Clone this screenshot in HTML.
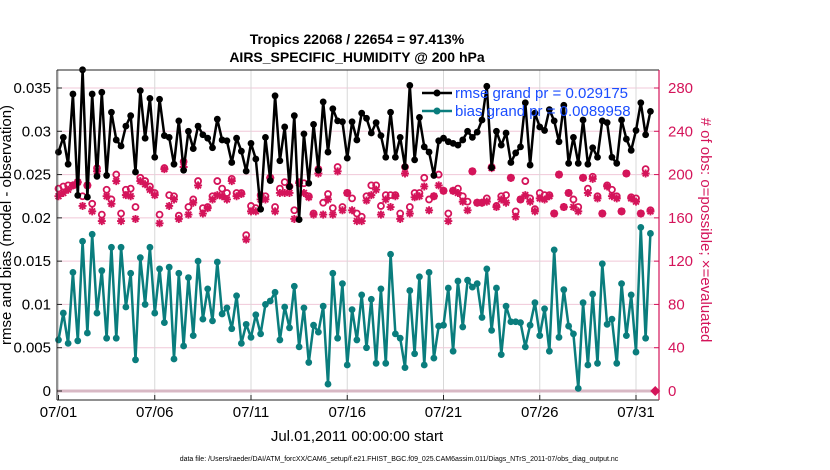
<!DOCTYPE html>
<html><head><meta charset="utf-8"><style>
body{margin:0;background:#fff;}
svg{display:block;font-family:"Liberation Sans",sans-serif;}
</style></head><body>
<svg id="chart" width="830" height="470" viewBox="0 0 830 470" xmlns="http://www.w3.org/2000/svg">
<text x="357" y="44" text-anchor="middle" font-size="14" font-weight="bold">Tropics 22068 / 22654 = 97.413%</text>
<text x="357" y="62" text-anchor="middle" font-size="14" font-weight="bold">AIRS_SPECIFIC_HUMIDITY @ 200 hPa</text>
<g id="grid"></g>
<g id="marks"></g>
<g id="axes"></g>
<text transform="translate(11,225) rotate(-90)" text-anchor="middle" font-size="15">rmse and bias (model - observation)</text>
<text transform="translate(701,230) rotate(90)" text-anchor="middle" font-size="15" fill="#d4145a">
# of obs: o=possible; ×=evaluated</text>
<text x="357" y="441" text-anchor="middle" font-size="15">Jul.01,2011 00:00:00 start</text>
<text x="399" y="461" text-anchor="middle" font-size="7">data file: /Users/raeder/DAI/ATM_forcXX/CAM6_setup/f.e21.FHIST_BGC.f09_025.CAM6assim.011/Diags_NTrS_2011-07/obs_diag_output.nc</text>
<g id="legend"></g>
</svg>
<script>
const rmse=[0.0276,0.0293,0.0262,0.0343,0.0226,0.0371,0.0224,0.0343,0.0248,0.0345,0.0249,0.0322,0.0290,0.0283,0.0306,0.0318,0.0253,0.0347,0.0292,0.0338,0.0270,0.0337,0.0295,0.0293,0.0262,0.0312,0.0255,0.0300,0.0280,0.0306,0.0296,0.0292,
0.0281,0.0314,0.0290,0.0289,0.0264,0.0292,0.0277,0.0254,0.0286,0.0268,0.0210,0.0293,0.0243,0.0341,0.0266,0.0305,0.0236,0.0318,0.0198,0.0297,0.0240,0.0308,0.0255,0.0334,0.0276,0.0326,0.0312,0.0311,0.0269,0.0311,0.0290,
0.0321,0.0315,0.0298,0.0310,0.0295,0.0270,0.0322,0.0270,0.0293,0.0259,0.0353,0.0267,0.0316,0.0282,0.0276,0.0249,0.0289,0.0292,0.0288,0.0286,0.0284,0.0290,0.0300,0.0293,0.0299,0.0313,0.0352,0.0258,0.0300,0.0284,0.0298,
0.0264,0.0275,0.0282,0.0333,0.0261,0.0321,0.0305,0.0301,0.0325,0.0312,0.0288,0.0330,0.0263,0.0293,0.0263,0.0313,0.0262,0.0281,0.0270,0.0312,0.0310,0.0270,0.0263,0.0313,0.0291,0.0278,0.0301,0.0333,0.0296,0.0323];
const bias=[0.0059,0.0090,0.0055,0.0137,0.0058,0.0173,0.0067,0.0181,0.0090,0.0139,0.0061,0.0166,0.0061,0.0166,0.0097,0.0136,0.0036,0.0154,0.0100,0.0166,0.0090,0.0141,0.0079,0.0143,0.0037,0.0136,0.0052,0.0131,0.0064,0.0150,0.0083,0.0118,
0.0081,0.0149,0.0089,0.0096,0.0072,0.0110,0.0055,0.0077,0.0062,0.0088,0.0066,0.0100,0.0104,0.0114,0.0059,0.0097,0.0073,0.0121,0.0051,0.0096,0.0033,0.0076,0.0068,0.0098,0.0008,0.0136,0.0061,0.0124,0.0030,0.0094,0.0059,
0.0111,0.0050,0.0106,0.0032,0.0118,0.0032,0.0158,0.0066,0.0061,0.0027,0.0116,0.0043,0.0132,0.0030,0.0137,0.0038,0.0075,0.0076,0.0119,0.0046,0.0127,0.0074,0.0128,0.0120,0.0124,0.0085,0.0141,0.0070,0.0119,0.0042,0.0098,
0.0080,0.0080,0.0079,0.0051,0.0076,0.0102,0.0064,0.0095,0.0046,0.0163,0.0062,0.0117,0.0075,0.0066,0.0003,0.0102,0.0030,0.0112,0.0032,0.0147,0.0077,0.0083,0.0032,0.0124,0.0064,0.0111,0.0045,0.0189,0.0061,0.0182];
const nEval=[180,183,186,190,193,171,190,166,203,157,180,173,194,157,181,180,159,194,191,186,181,155,205,171,177,159,207,163,174,190,164,169,
177,181,180,177,194,180,182,140,166,166,177,177,197,166,183,183,183,159,192,183,179,163,201,163,177,163,203,167,183,167,157,
157,176,181,186,163,177,170,180,159,201,164,179,180,189,167,180,190,185,157,185,183,175,167,203,174,174,175,206,170,177,174,
197,161,177,181,175,166,178,177,180,164,200,170,183,170,166,197,183,196,178,164,189,180,178,166,201,178,175,164,201,166];
const nPoss=[187,189,190,190,193,180,190,173,206,163,186,177,200,164,186,187,170,197,194,189,183,163,206,181,180,162,212,170,177,194,169,170,
180,194,187,183,196,183,183,144,171,169,181,180,197,170,187,193,189,167,193,192,180,164,205,174,182,169,207,170,183,178,164,
161,180,190,190,171,181,181,181,164,207,170,183,183,197,177,180,200,185,164,185,187,180,175,203,174,174,178,207,171,180,181,
197,166,177,194,178,168,183,181,181,164,200,170,183,177,170,197,187,198,180,164,190,186,180,166,201,179,178,164,205,167];
const leftTicks=[0,0.005,0.01,0.015,0.02,0.025,0.03,0.035];
const leftTickLabels=["0","0.005","0.01","0.015","0.02","0.025","0.03","0.035"];
const rightTicks=[0,40,80,120,160,200,240,280];
const dayTicks=[0,5,10,15,20,25,30];
const dayLabels=["07/01","07/06","07/11","07/16","07/21","07/26","07/31"];
const stepDays=0.25;

const X0=57,X1=659,Y0=70,Y1=400;
const xs=t=>58.5+19.25*t;
const yL=v=>391-v*303/0.035;
const yR=c=>391-c*303/280;
const NS="http://www.w3.org/2000/svg";
function mk(tag,parent,attrs){const e=document.createElementNS(NS,tag);for(const k in attrs)e.setAttribute(k,attrs[k]);parent.appendChild(e);return e;}
const grid=document.getElementById('grid'),marks=document.getElementById('marks'),axes=document.getElementById('axes'),legend=document.getElementById('legend');
mk('rect',grid,{x:X0,y:Y0,width:X1-X0,height:Y1-Y0,fill:'#fff'});
leftTicks.forEach((v,i)=>{
 const g=mk('line',grid,{x1:X0,x2:X1,y1:yL(v),y2:yL(v),stroke:'#f0c8d8','stroke-width':1});
 
 
 const t=mk('text',axes,{x:X0-6,y:yL(v)+5,'text-anchor':'end','font-size':15});
 t.textContent=leftTickLabels[i];
 
 
 mk('line',axes,{x1:X0,x2:X0+5,y1:yL(v),y2:yL(v),stroke:'#222'});
});
rightTicks.forEach(c=>{
 const t=mk('text',axes,{x:X1+9,y:yR(c)+5,'font-size':15,fill:'#d4145a'});
 t.textContent=String(c);
 
 
 mk('line',axes,{x1:X1-5,x2:X1,y1:yR(c),y2:yR(c),stroke:'#d4145a'});
});
dayTicks.forEach((d,i)=>{
 const g=mk('line',grid,{x1:xs(d),x2:xs(d),y1:Y0,y2:Y1,stroke:'#d8d8d8'});
 
 
 const t=mk('text',axes,{x:xs(d),y:Y1+17,'text-anchor':'middle','font-size':15});
 t.textContent=dayLabels[i];
 
 
 mk('line',axes,{x1:xs(d),x2:xs(d),y1:Y1,y2:Y1-5,stroke:'#222'});
});
const zl=mk('line',marks,{x1:X0,x2:X1,y1:yL(0),y2:yL(0),stroke:'#d8b8c4','stroke-width':3});


nPoss.forEach((c,i)=>{
 const e=mk('circle',marks,{cx:xs(i*stepDays),cy:yR(c),r:3,fill:'none',stroke:'#d4145a','stroke-width':1.8});
 
 
});
nEval.forEach((c,i)=>{
 const x=xs(i*stepDays),y=yR(c),s=4,d=2.9;
 const e=mk('path',marks,{d:`M${x-s},${y}H${x+s}M${x},${y-s}V${y+s}M${x-d},${y-d}L${x+d},${y+d}M${x-d},${y+d}L${x+d},${y-d}`,stroke:'#d4145a','stroke-width':1.9});
 
 
});
const dm=mk('path',marks,{d:`M${xs(31)},${yR(0)-5}l5,5l-5,5l-5,-5z`,fill:'#d4145a'});


function series(arr,color,name){
 const pts=arr.map((v,i)=>xs(i*stepDays).toFixed(1)+','+yL(v).toFixed(1)).join(' ');
 const p=mk('polyline',marks,{points:pts,fill:'none',stroke:color,'stroke-width':2.5,'stroke-linejoin':'round'});
 
 
 arr.forEach((v,i)=>{
  const c=mk('circle',marks,{cx:xs(i*stepDays),cy:yL(v),r:3.4,fill:color});
  
  
 });
}
series(bias,'#0a7d7d','bias');
series(rmse,'#000','rmse');
mk('line',axes,{x1:X0,x2:X0,y1:Y0,y2:Y1,stroke:'#222','stroke-width':1});
mk('line',axes,{x1:X0,x2:X1,y1:Y1,y2:Y1,stroke:'#222','stroke-width':1});
mk('line',axes,{x1:X0,x2:X1,y1:Y0,y2:Y0,stroke:'#222','stroke-width':1});
mk('line',axes,{x1:X1,x2:X1,y1:Y0,y2:Y1,stroke:'#d4145a','stroke-width':1.2});
// legend on top
mk('line',legend,{x1:422,y1:93,x2:452,y2:93,stroke:'#000','stroke-width':2.5});
mk('circle',legend,{cx:437,cy:93,r:3.5,fill:'#000'});
const l1=mk('text',legend,{x:455,y:98,'font-size':15,fill:'#1a4dff'});
l1.textContent='rmse grand pr = 0.029175';


mk('line',legend,{x1:422,y1:111,x2:452,y2:111,stroke:'#0a7d7d','stroke-width':2.5});
mk('circle',legend,{cx:437,cy:111,r:3.5,fill:'#0a7d7d'});
const l2=mk('text',legend,{x:455,y:116,'font-size':15,fill:'#1a4dff'});
l2.textContent='bias grand pr = 0.0089958';


</script>
</body></html>
